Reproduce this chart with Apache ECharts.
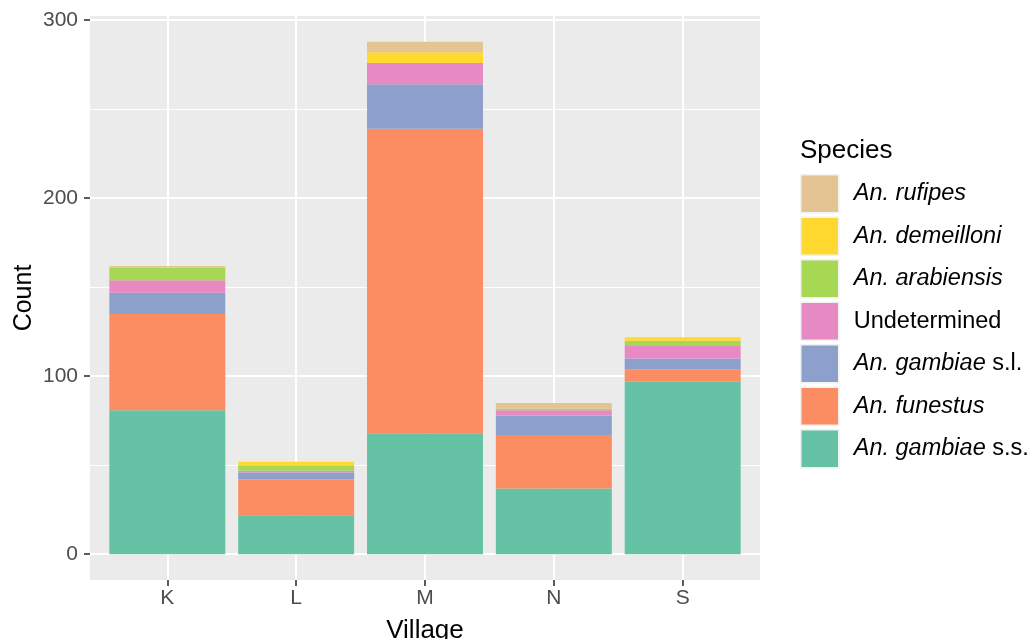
<!DOCTYPE html>
<html>
<head>
<meta charset="utf-8">
<script src="https://cdn.jsdelivr.net/npm/echarts@6/dist/echarts.min.js"></script>
<style>html,body{margin:0;padding:0;background:#fff;}#c{width:1029px;height:639px;}</style>
</head>
<body>
<div id="c"></div>
<script>
const categories = ['K', 'L', 'M', 'N', 'S'];
const gambiaeSS   = [81, 22, 68, 37, 97];
const funestus    = [54, 20, 171, 30, 7];
const gambiaeSL   = [12, 4, 25, 11, 6];
const undetermined= [7, 1, 12, 3, 7];
const arabiensis  = [7, 3, 0, 1, 3];
const demeilloni  = [0, 2, 6, 0, 2];
const rufipes     = [1, 0, 6, 3, 0];
const yTicks = [0, 100, 200, 300];

const seriesDefs = [
  ['An. gambiae s.s.', gambiaeSS, '#66C2A5'],
  ['An. funestus', funestus, '#FC8D62'],
  ['An. gambiae s.l.', gambiaeSL, '#8DA0CB'],
  ['Undetermined', undetermined, '#E78AC3'],
  ['An. arabiensis', arabiensis, '#A6D854'],
  ['An. demeilloni', demeilloni, '#FFD92F'],
  ['An. rufipes', rufipes, '#E5C494']
];
const legendOrder = seriesDefs.map(d => d[0]).slice().reverse();
const FONT = '"Liberation Sans", Arial, Helvetica, sans-serif';

// panel geometry (ggplot-style expansion: 0.6 units on each side of discrete axis)
const PANEL_L = 90, PANEL_W = 670, PANEL_T = 16, PANEL_H = 564;
const band = PANEL_W / (categories.length + 0.2);

const chart = echarts.init(document.getElementById('c'), null, {renderer: 'canvas'});
chart.setOption({
  animation: false,
  backgroundColor: '#ffffff',
  title: {
    text: 'Species', left: 800, top: 138, padding: 0,
    textStyle: {fontSize: 26, fontWeight: 'normal', color: '#000', fontFamily: FONT}
  },
  legend: {
    orient: 'vertical', left: 800, top: 174, padding: 0,
    itemWidth: 38, itemHeight: 38, itemGap: 3, icon: 'rect',
    itemStyle: {borderColor: '#F2F2F2', borderWidth: 1.5},
    data: legendOrder,
    formatter: function (name) {
      if (name === 'Undetermined') return '{n|Undetermined}';
      const m = name.match(/^(An\. gambiae) (s\.[ls]\.)$/);
      if (m) return '{i|' + m[1] + '} {n|' + m[2] + '}';
      return '{i|' + name + '}';
    },
    textStyle: {
      fontFamily: FONT, fontSize: 23.5, color: '#000', padding: [0, 0, 0, 10],
      rich: {
        i: {fontFamily: FONT, fontSize: 23.5, fontStyle: 'italic', color: '#000'},
        n: {fontFamily: FONT, fontSize: 23.5, color: '#000'}
      }
    }
  },
  grid: [
    {left: PANEL_L, top: PANEL_T, width: PANEL_W, height: PANEL_H, show: true, backgroundColor: '#EBEBEB', borderWidth: 0, outerBoundsMode: 'none', containLabel: false},
    {left: PANEL_L, top: 20, width: PANEL_W, height: 534, show: false, outerBoundsMode: 'none', containLabel: false},
    {left: PANEL_L + 0.1 * band, top: PANEL_T, width: band * categories.length, height: PANEL_H, show: false, outerBoundsMode: 'none', containLabel: false}
  ],
  xAxis: [
    {
      type: 'value', gridIndex: 0, min: 0.4, max: 5.6, position: 'bottom',
      name: 'Village', nameLocation: 'middle', nameGap: 38, nameMoveOverlap: false,
      nameTextStyle: {fontFamily: FONT, fontSize: 26, color: '#000'},
      axisLine: {show: false, onZero: false},
      axisTick: {show: true, length: 6, lineStyle: {color: '#333333', width: 1.6}, customValues: [1, 2, 3, 4, 5]},
      axisLabel: {
        show: true, margin: 8, color: '#4D4D4D', fontSize: 21, fontFamily: FONT,
        customValues: [1, 2, 3, 4, 5],
        formatter: v => categories[Math.round(v) - 1] || ''
      },
      splitLine: {show: true, lineStyle: {color: '#FFFFFF', width: 2}}
    },
    {type: 'value', gridIndex: 1, min: 0, max: 1, show: false},
    {type: 'category', gridIndex: 2, data: categories, show: false}
  ],
  yAxis: [
    {
      type: 'value', gridIndex: 0, min: -14.4, max: 302.4,
      name: 'Count', nameLocation: 'middle', nameGap: 53, nameMoveOverlap: false,
      nameTextStyle: {fontFamily: FONT, fontSize: 25, color: '#000'},
      axisLine: {show: false, onZero: false}, axisTick: {show: false}, axisLabel: {show: false}, splitLine: {show: false}
    },
    {
      type: 'value', gridIndex: 1, min: 0, max: 300, interval: 100,
      axisLine: {show: false, onZero: false},
      axisTick: {show: true, length: 6, lineStyle: {color: '#333333', width: 1.6}},
      axisLabel: {margin: 12, color: '#4D4D4D', fontSize: 21, fontFamily: FONT,
        formatter: v => (yTicks.indexOf(v) >= 0 ? String(v) : '')},
      splitLine: {show: true, lineStyle: {color: '#FFFFFF', width: 2}},
      minorTick: {show: false, splitNumber: 2},
      minorSplitLine: {show: true, lineStyle: {color: '#FFFFFF', width: 1}}
    },
    {type: 'value', gridIndex: 2, min: -14.4, max: 302.4, show: false}
  ],
  series: seriesDefs.map(d => ({
    name: d[0], type: 'bar', stack: 'total', xAxisIndex: 2, yAxisIndex: 2,
    barWidth: '90%',
    itemStyle: {color: d[2]},
    data: d[1]
  }))
});
</script>
</body>
</html>
